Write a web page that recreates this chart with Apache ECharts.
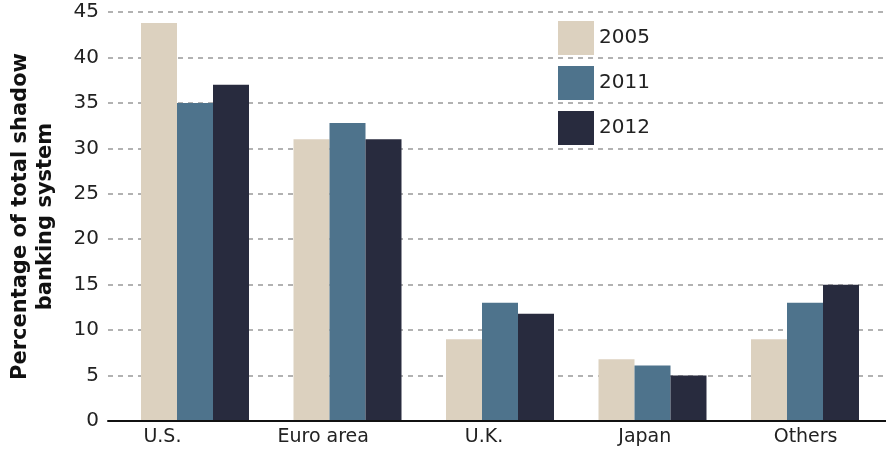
<!DOCTYPE html>
<html>
<head>
<meta charset="utf-8">
<script src="https://cdn.jsdelivr.net/npm/echarts@6/dist/echarts.min.js"></script>
<style>
  html, body { margin: 0; padding: 0; background: #fff; }
  #main { width: 886px; height: 452px; }
</style>
</head>
<body>
<div id="main"></div>
<script>
var categories = ['U.S.', 'Euro area', 'U.K.', 'Japan', 'Others'];
var years = ['2005', '2011', '2012'];
var v2005 = [43.8, 31, 9, 6.8, 9];
var v2011 = [35, 32.8, 13, 6.1, 13];
var v2012 = [37, 31, 11.8, 5, 15];
var yTicks = { min: 0, max: 45, interval: 5 };

var colors = ['#dcd1bf', '#4e738c', '#282b3e'];
var font = 'DejaVu Sans';

var chart = echarts.init(document.getElementById('main'));

function bar(name, values) {
    return {
        name: name,
        type: 'bar',
        xAxisIndex: 0,
        yAxisIndex: 0,
        barWidth: 36,
        barGap: '0%',
        data: values
    };
}

option = {
    backgroundColor: '#fff',
    animation: false,
    color: colors,
    textStyle: { fontFamily: font },
    legend: {
        orient: 'vertical',
        left: 553,
        top: 16,
        itemWidth: 36,
        itemHeight: 34,
        itemGap: 11,
        icon: 'rect',
        data: years,
        textStyle: { fontSize: 20, color: '#222', fontFamily: font }
    },
    grid: [
        // bars
        { left: 118.75, width: 762.5, top: 12, bottom: 31 },
        // frame: y labels, grid lines, base line
        { left: 108, right: 0, top: 12, bottom: 31 },
        // category labels
        { left: 82, width: 818, top: 12, bottom: 31 }
    ],
    xAxis: [
        { gridIndex: 0, type: 'category', data: categories, show: false },
        {
            gridIndex: 1, type: 'category', data: categories,
            axisLine: { lineStyle: { color: '#111', width: 2 } },
            axisTick: { show: false },
            axisLabel: { show: false },
            z: 5
        },
        {
            gridIndex: 2, type: 'category', data: categories,
            axisLine: { show: false },
            axisTick: { show: false },
            axisLabel: { fontSize: 19, color: '#222', fontFamily: font, margin: 7 }
        }
    ],
    yAxis: [
        { gridIndex: 0, type: 'value', min: yTicks.min, max: yTicks.max, show: false },
        {
            gridIndex: 1, type: 'value',
            min: yTicks.min, max: yTicks.max, interval: yTicks.interval,
            name: 'Percentage of total shadow\nbanking system',
            nameLocation: 'middle',
            nameGap: 50,
            nameTextStyle: { fontSize: 21, fontWeight: 'bold', color: '#111', fontFamily: font, lineHeight: 25 },
            axisLine: { show: false },
            axisTick: { show: false },
            axisLabel: { fontSize: 20, color: '#222', fontFamily: font, margin: 9 },
            splitLine: { lineStyle: { color: '#999', type: [5, 5], width: 1.5 } }
        },
        { gridIndex: 2, type: 'value', show: false }
    ],
    series: [
        bar(years[0], v2005),
        bar(years[1], v2011),
        bar(years[2], v2012)
    ]
};

chart.setOption(option);
</script>
</body>
</html>
